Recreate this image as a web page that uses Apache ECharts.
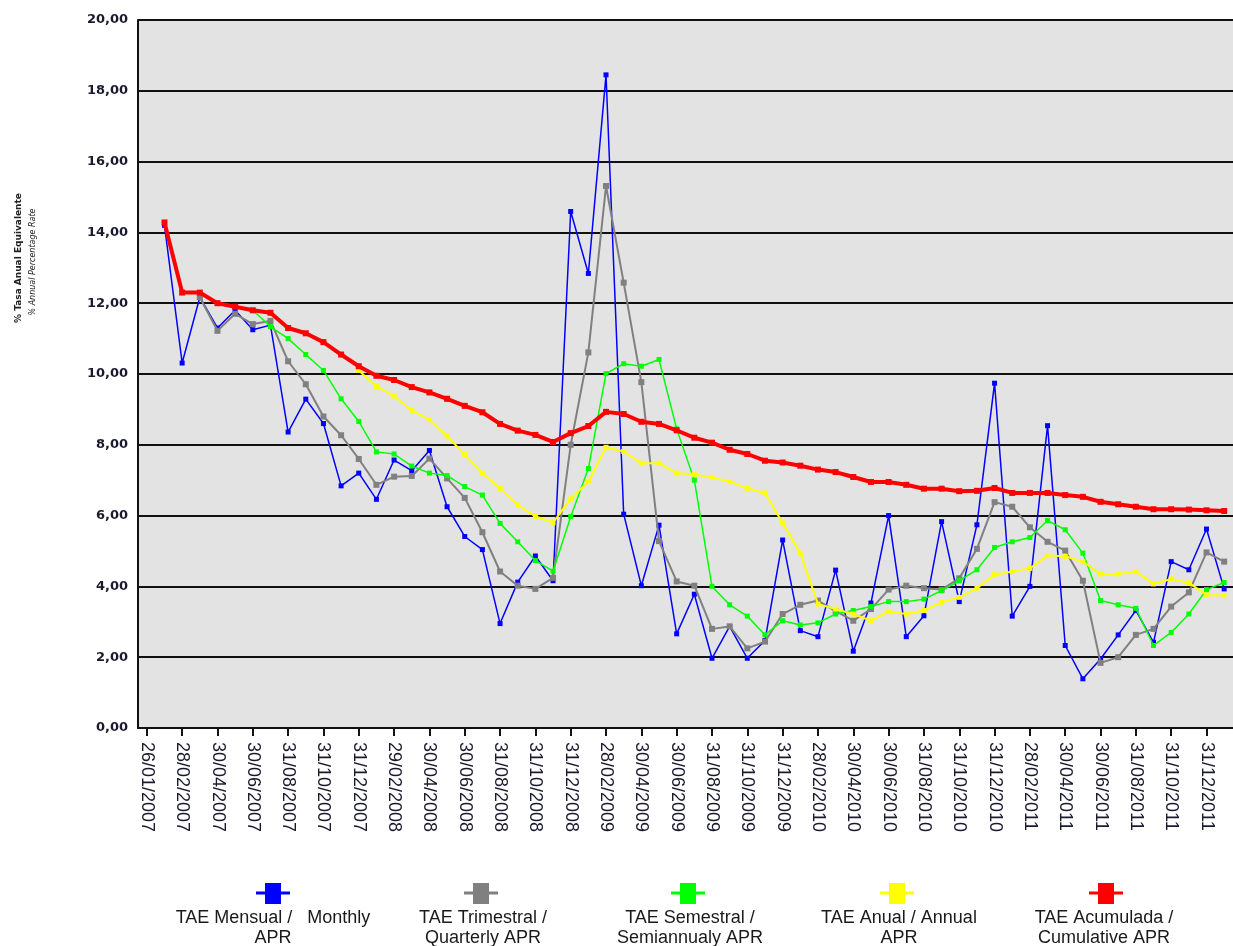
<!DOCTYPE html>
<html>
<head>
<meta charset="utf-8">
<script src="https://cdn.jsdelivr.net/npm/echarts@6/dist/echarts.min.js"></script>
<style>
html,body{margin:0;padding:0;background:#fff;overflow:hidden;}
#chart{width:1233px;height:946px;}
</style>
</head>
<body>
<div id="chart"></div>
<script>
const categories = ["26/01/2007","31/01/2007","28/02/2007","31/03/2007","30/04/2007","31/05/2007","30/06/2007","31/07/2007","31/08/2007","30/09/2007","31/10/2007","30/11/2007","31/12/2007","31/01/2008","29/02/2008","31/03/2008","30/04/2008","31/05/2008","30/06/2008","31/07/2008","31/08/2008","30/09/2008","31/10/2008","30/11/2008","31/12/2008","31/01/2009","28/02/2009","31/03/2009","30/04/2009","31/05/2009","30/06/2009","31/07/2009","31/08/2009","30/09/2009","31/10/2009","30/11/2009","31/12/2009","31/01/2010","28/02/2010","31/03/2010","30/04/2010","31/05/2010","30/06/2010","31/07/2010","31/08/2010","30/09/2010","31/10/2010","30/11/2010","31/12/2010","31/01/2011","28/02/2011","31/03/2011","30/04/2011","31/05/2011","30/06/2011","31/07/2011","31/08/2011","30/09/2011","31/10/2011","30/11/2011","31/12/2011","31/01/2012"];

const monthly = [null,14.2,10.31,12.17,11.3,11.8,11.25,11.38,8.36,9.29,8.6,6.84,7.2,6.46,7.57,7.27,7.84,6.25,5.41,5.04,2.95,4.12,4.86,4.16,14.59,12.84,18.45,6.04,4.02,5.73,2.66,3.78,1.97,2.87,1.97,2.47,5.31,2.75,2.58,4.46,2.17,3.53,6.0,2.58,3.17,5.83,3.57,5.74,9.74,3.16,4.0,8.54,2.33,1.39,1.95,2.63,3.32,2.42,4.7,4.47,5.62,3.93];

const quarterly = [null,null,null,12.17,11.22,11.7,11.41,11.5,10.36,9.71,8.8,8.27,7.6,6.87,7.1,7.12,7.61,7.05,6.5,5.53,4.42,4.02,3.93,4.24,8.0,10.61,15.31,12.58,9.77,5.28,4.14,4.02,2.8,2.87,2.25,2.44,3.22,3.48,3.6,3.3,3.03,3.36,3.91,4.02,3.95,3.91,4.23,5.06,6.38,6.25,5.67,5.26,5.01,4.16,1.84,2.0,2.63,2.8,3.43,3.83,4.96,4.7];

const semiannual = [null,null,null,null,null,null,11.8,11.34,11.0,10.55,10.1,9.3,8.66,7.8,7.74,7.4,7.2,7.13,6.82,6.58,5.78,5.26,4.73,4.43,5.97,7.33,10.01,10.29,10.22,10.41,8.45,7.0,4.0,3.48,3.16,2.63,3.03,2.91,2.97,3.22,3.32,3.43,3.57,3.57,3.64,3.88,4.16,4.47,5.1,5.26,5.38,5.86,5.6,4.94,3.6,3.48,3.38,2.33,2.7,3.22,3.91,4.11];

const annual = [null,null,null,null,null,null,null,null,null,null,null,null,10.1,9.65,9.38,8.97,8.71,8.25,7.72,7.2,6.77,6.3,5.98,5.8,6.47,6.96,7.93,7.81,7.48,7.48,7.2,7.16,7.08,6.96,6.77,6.64,5.79,4.94,3.5,3.36,3.22,3.03,3.29,3.22,3.32,3.55,3.69,3.95,4.33,4.42,4.51,4.87,4.85,4.7,4.35,4.35,4.42,4.07,4.21,4.1,3.76,3.74];

const cumulative = [null,14.28,12.3,12.3,12.0,11.9,11.8,11.73,11.3,11.15,10.9,10.55,10.22,9.95,9.83,9.63,9.48,9.3,9.1,8.92,8.59,8.4,8.28,8.08,8.33,8.53,8.93,8.87,8.65,8.59,8.41,8.2,8.06,7.86,7.74,7.55,7.5,7.41,7.3,7.23,7.09,6.95,6.95,6.87,6.76,6.76,6.69,6.7,6.78,6.64,6.64,6.64,6.58,6.53,6.39,6.32,6.25,6.18,6.18,6.17,6.15,6.13];

const seriesNames = [["TAE Mensual /   Monthly","APR"],["TAE Trimestral /","Quarterly APR"],["TAE Semestral /","Semiannualy APR"],["TAE Anual / Annual","APR"],["TAE Acumulada /","Cumulative APR"]];
const seriesColors = ["#0000FF","#808080","#00FF00","#FFFF00","#FF0000"];
const yTitle = ["% Tasa Anual Equivalente","% Annual Percentage Rate"];

const FONT = "DejaVu Sans";
const LFONT = "Liberation Sans";
const chart = echarts.init(document.getElementById('chart'), null, {renderer:'canvas'});

const styles = [
  {w:1.5, s:5},
  {w:2, s:6},
  {w:1.5, s:5},
  {w:2, s:5},
  {w:4, s:6}
];
const datas = [monthly, quarterly, semiannual, annual, cumulative];

const series = datas.map((d,i)=>({
  name: seriesNames[i].join(' '),
  type:'line',
  data:d,
  symbol:'rect',
  symbolSize:styles[i].s,
  showSymbol:true,
  connectNulls:false,
  lineStyle:{color:seriesColors[i], width:styles[i].w},
  itemStyle:{color:seriesColors[i]},
  z: 2+i,
  animation:false
}));

const legendX = [273,481,688,897,1106];
const textX = [273,483,690,899,1104];
const graphics = [];
legendX.forEach((x,i)=>{
  graphics.push({type:'line', shape:{x1:x-17,y1:893,x2:x+17,y2:893}, style:{stroke:seriesColors[i], lineWidth:3}});
  graphics.push({type:'rect', shape:{x:x-8,y:883,width:16,height:21}, style:{fill:seriesColors[i]}});
  graphics.push({type:'text', x:textX[i], y:918, style:{text:seriesNames[i][0], font:'18px "'+LFONT+'"', fill:'#1a1a1a', align:'center', verticalAlign:'middle'}});
  graphics.push({type:'text', x:textX[i], y:938, style:{text:seriesNames[i][1], font:'18px "'+LFONT+'"', fill:'#1a1a1a', align:'center', verticalAlign:'middle'}});
});
graphics.push({type:'text', x:19, y:258, rotation:Math.PI/2, style:{text:yTitle[0], font:'bold 9px "'+FONT+'"', fill:'#222', align:'center', verticalAlign:'middle'}});
graphics.push({type:'text', x:33, y:262, rotation:Math.PI/2, style:{text:yTitle[1], font:'italic 8px "'+FONT+'"', fill:'#222', align:'center', verticalAlign:'middle'}});

chart.setOption({
  animation:false,
  backgroundColor:'#ffffff',
  grid:{left:138, top:20, width:1104, height:708, show:true, backgroundColor:'#E3E3E3', borderColor:'#111', borderWidth:0, containLabel:false},
  xAxis:{
    type:'category', data:categories, boundaryGap:true,
    axisLine:{show:true, lineStyle:{color:'#111', width:2}},
    axisTick:{show:true, alignWithLabel:true, interval:1, length:8, lineStyle:{color:'#111', width:2}},
    axisLabel:{interval:1, rotate:-90, margin:14, fontFamily:LFONT, fontSize:18, color:'#1a1a2e'},
    splitLine:{show:false}
  },
  yAxis:{
    type:'value', min:0, max:20, interval:2,
    axisLine:{show:true, lineStyle:{color:'#111', width:2}},
    axisTick:{show:false},
    axisLabel:{margin:10, fontFamily:FONT, fontSize:13, fontWeight:'bold', color:'#1a1a2e', formatter:v=>v.toFixed(2).replace('.',',')},
    splitLine:{show:true, lineStyle:{color:'#111', width:2}}
  },
  series:series,
  graphic:graphics
});
</script>
</body>
</html>
